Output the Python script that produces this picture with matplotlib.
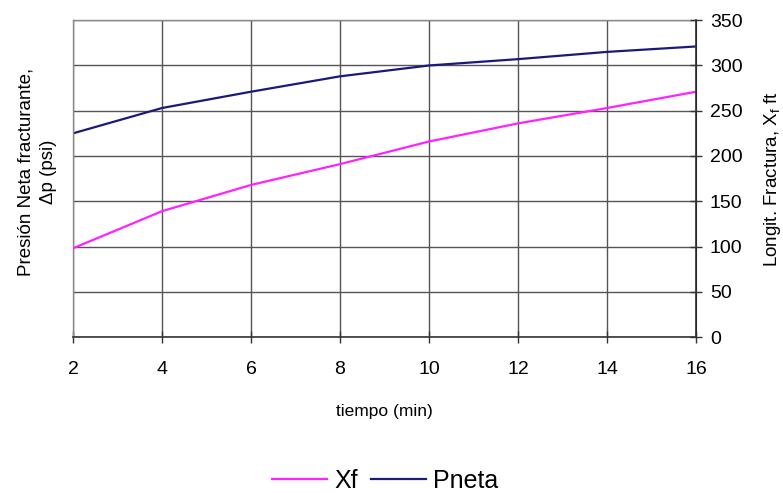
import matplotlib
matplotlib.use("Agg")
import matplotlib.pyplot as plt

plt.rcParams['font.family'] = ['Liberation Sans', 'DejaVu Sans']
plt.rcParams['mathtext.default'] = 'regular'

# Tiempo de bombeo (min)
tiempo = [2, 4, 6, 8, 10, 12, 14, 16]
# Longitud de fractura Xf (ft)
xf = [98, 139, 168, 191, 216, 236, 253, 271]
# Presión neta (psi)
pneta = [225, 253, 271, 288, 300, 307, 315, 321]

x_ticks = [2, 4, 6, 8, 10, 12, 14, 16]
y_ticks = [0, 50, 100, 150, 200, 250, 300, 350]

fig = plt.figure(figsize=(7.83, 4.93), dpi=100)
ax = fig.add_axes([0.0932, 0.3164, 0.7958, 0.6426])
ax2 = ax.twinx()

grid_c = '#555555'
ax.set_xlim(2, 16)
ax.set_ylim(0, 350)
ax2.set_ylim(0, 350)
ax.set_xticks(x_ticks)
ax.set_yticks(y_ticks)
ax.set_yticklabels([])
ax.tick_params(axis='y', length=0)
ax.grid(True, color=grid_c, linewidth=1.0)
ax.set_axisbelow(True)

for side in ['top', 'left']:
    ax.spines[side].set_color('#8a8a8a')
    ax.spines[side].set_linewidth(1.0)
ax.spines['bottom'].set_color('#333333')
ax.spines['bottom'].set_linewidth(1.2)
ax2.spines['right'].set_color('#333333')
ax2.spines['right'].set_linewidth(1.2)
for side in ['top', 'left', 'bottom']:
    ax2.spines[side].set_visible(False)

ax.tick_params(axis='x', direction='inout', length=8, width=1.0,
               color='#333333', labelsize=14, pad=13)
ax2.set_yticks(y_ticks)
ax2.tick_params(axis='y', direction='inout', length=8, width=1.0,
                color='#333333', labelsize=14, pad=6)

l1, = ax2.plot(tiempo, xf, color='#ff22ff', linewidth=1.6, label='Xf')
l2, = ax.plot(tiempo, pneta, color='#1c1a78', linewidth=1.6, label='Pneta')

ax.set_xlabel('tiempo (min)', fontsize=12.5, labelpad=19)
ax.set_ylabel('Presión Neta fracturante,\nΔp (psi)', fontsize=13.5,
              linespacing=1.45)
ax.yaxis.set_label_coords(-0.025, 0.52)
ax2.set_ylabel('Longit. Fractura, X$_f$ ft', fontsize=13.5, labelpad=14)

fig.legend(handles=[l1, l2], loc='lower center', bbox_to_anchor=(0.492, -0.045),
           ncol=2, frameon=False, fontsize=18, handlelength=2.2,
           handletextpad=0.3, columnspacing=0.5)

fig.savefig('out.png', dpi=100)
